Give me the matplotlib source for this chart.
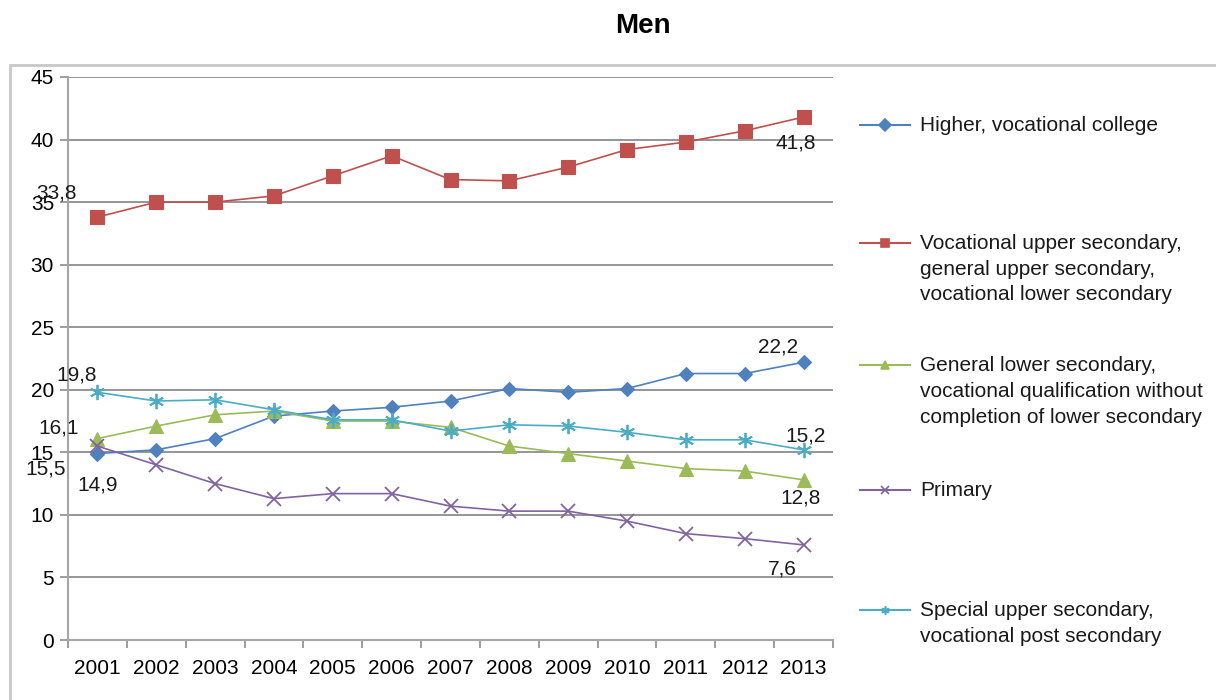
import matplotlib.pyplot as plt
from matplotlib.lines import Line2D
from matplotlib.patches import Rectangle

plt.rcParams['font.family'] = ['Liberation Sans', 'DejaVu Sans']

years = ['2001', '2002', '2003', '2004', '2005', '2006', '2007',
         '2008', '2009', '2010', '2011', '2012', '2013']

higher = [14.9, 15.2, 16.1, 17.9, 18.3, 18.6, 19.1, 20.1, 19.8, 20.1, 21.3, 21.3, 22.2]
upper_secondary = [33.8, 35.0, 35.0, 35.5, 37.1, 38.7, 36.8, 36.7, 37.8, 39.2, 39.8, 40.7, 41.8]
lower_secondary = [16.1, 17.1, 18.0, 18.3, 17.5, 17.5, 17.0, 15.5, 14.9, 14.3, 13.7, 13.5, 12.8]
primary = [15.5, 14.0, 12.5, 11.3, 11.7, 11.7, 10.7, 10.3, 10.3, 9.5, 8.5, 8.1, 7.6]
special = [19.8, 19.1, 19.2, 18.4, 17.6, 17.6, 16.7, 17.2, 17.1, 16.6, 16.0, 16.0, 15.2]

labels = ['Higher, vocational college',
          'Vocational upper secondary,\ngeneral upper secondary,\nvocational lower secondary',
          'General lower secondary,\nvocational qualification without\ncompletion of lower secondary',
          'Primary',
          'Special upper secondary,\nvocational post secondary']

series = [higher, upper_secondary, lower_secondary, primary, special]
colors = ['#4F81BD', '#C0504D', '#9BBB59', '#8064A2', '#4BACC6']
markers = ['D', 's', '^', 'x', (6, 2, 0)]
msizes = [7.5, 10, 10, 10, 11]

FS = 15

fig = plt.figure(figsize=(12.16, 7.0), dpi=100)
ax = fig.add_axes([68 / 1216, 1 - 640 / 700, (833 - 68) / 1216, (640 - 77) / 700])

# outer chart frame
fig.patches.append(Rectangle((10 / 1216, -0.2), 1.1, 0.2 + (700 - 65) / 700,
                             transform=fig.transFigure, fill=False,
                             edgecolor='#c8c8c8', lw=2.0))

x = list(range(len(years)))
for vals, c, m, ms in zip(series, colors, markers, msizes):
    ax.plot(x, vals, color=c, marker=m, markersize=ms, lw=1.2,
            markeredgewidth=1.3 if m in ('x', (6, 2, 0)) else 0.8,
            markeredgecolor=c, markerfacecolor=c)

ax.set_xlim(-0.5, len(years) - 0.5)
ax.set_ylim(0, 45)
ax.set_yticks(range(0, 46, 5))
ax.set_xticks(x)
ax.set_xticklabels(years)
ax.set_xticks([i + 0.5 for i in range(-1, len(years))], minor=True)
ax.tick_params(axis='x', which='major', length=0, pad=14, labelsize=FS)
ax.tick_params(axis='x', which='minor', length=6, width=1.2, color='#8c8c8c', direction='out')
ax.tick_params(axis='y', length=6, width=1.2, color='#8c8c8c', labelsize=FS, pad=4)
ax.yaxis.grid(True, color='#8c8c8c', lw=1.3)
ax.set_axisbelow(True)
for s in ['top', 'right']:
    ax.spines[s].set_visible(False)
for s in ['left', 'bottom']:
    ax.spines[s].set_color('#a6a6a6')
    ax.spines[s].set_linewidth(1.5)

# value labels at start and end of series
notes = [
    (upper_secondary, 0, -41, 24),
    (special, 0, -21, 17),
    (lower_secondary, 0, -39, 11),
    (primary, 0, -52, -23),
    (higher, 0, 0, -31),
    (higher, 12, -26, 15),
    (upper_secondary, 12, -8, -26),
    (special, 12, 2, 14),
    (lower_secondary, 12, -3, -18),
    (primary, 12, -21, -24),
]
for vals, i, dx, dy in notes:
    ax.annotate(f'{vals[i]:.1f}'.replace('.', ','), (i, vals[i]),
                xytext=(dx, dy), textcoords='offset pixels',
                ha='center', va='center', fontsize=FS, color='#1a1a1a')

fig.text(643 / 1216, 1 - 26 / 700, 'Men', ha='center', va='center',
         fontsize=20, fontweight='bold')

# legend drawn entry by entry, marker beside the first text line
legend_y = [125, 243, 365, 490, 610]
for lab, c, m, yl in zip(labels, colors, markers, legend_y):
    yf = 1 - yl / 700
    fig.add_artist(Line2D([860 / 1216, 910 / 1216], [yf, yf], color=c, lw=1.5,
                          transform=fig.transFigure))
    fig.add_artist(Line2D([885 / 1216], [yf], color=c, marker=m, markersize=6,
                          markeredgewidth=1.2, transform=fig.transFigure))
    fig.text(920 / 1216, yf + 9 / 700, lab, ha='left', va='top',
             fontsize=FS, linespacing=1.45, color='#1a1a1a')

fig.savefig('out.png', dpi=100)
